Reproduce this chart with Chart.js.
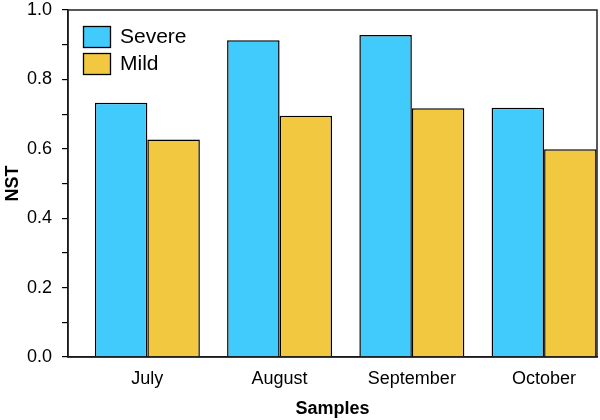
<!DOCTYPE html>
<html>
<head>
<meta charset="utf-8">
<script src="https://cdn.jsdelivr.net/npm/chart.js@4/dist/chart.umd.min.js"></script>
<style>
  html, body { margin: 0; padding: 0; background: #fff; }
  #wrap { width: 600px; height: 420px; }
</style>
</head>
<body>
<div id="wrap"><canvas id="nstChart" width="600" height="420"></canvas></div>
<script>
// Data
const months = ["July", "August", "September", "October"];
const monthPos = [1, 2, 3, 4];
const severe = [0.733, 0.913, 0.928, 0.718];
const mild = [0.627, 0.695, 0.717, 0.599];
const seriesNames = ["Severe", "Mild"];
const seriesColors = ["#41CBFC", "#F2C841"];

const FONT = "'Liberation Sans', Arial, sans-serif";

// frame around plot + legend inside plot
const framePlugin = {
    id: "frame",
    afterDraw(chart) {
        const { ctx, chartArea } = chart;
        ctx.save();
        ctx.strokeStyle = "#222";
        ctx.lineWidth = 1.5;
        ctx.strokeRect(chartArea.left, chartArea.top, chartArea.right - chartArea.left, chartArea.bottom - chartArea.top);

        // legend
        const x0 = chartArea.left + 15;
        let y0 = chartArea.top + 16;
        ctx.font = "21px " + FONT;
        ctx.textBaseline = "middle";
        chart.data.datasets.forEach((ds) => {
            ctx.fillStyle = ds.backgroundColor;
            ctx.fillRect(x0, y0, 27, 21);
            ctx.strokeStyle = "#000";
            ctx.lineWidth = 1.3;
            ctx.strokeRect(x0 + 0.5, y0 + 0.5, 27, 21);
            ctx.fillStyle = "#000";
            ctx.fillText(ds.label, x0 + 37, y0 + 11);
            y0 += 27;
        });
        ctx.restore();
    }
};

const ctx = document.getElementById("nstChart").getContext("2d");
new Chart(ctx, {
    type: "bar",
    data: {
        datasets: [
            {
                label: seriesNames[0],
                data: monthPos.map((p, i) => ({ x: p, y: severe[i] })),
                backgroundColor: seriesColors[0],
                borderColor: "#000",
                borderWidth: 1.5
            },
            {
                label: seriesNames[1],
                data: monthPos.map((p, i) => ({ x: p, y: mild[i] })),
                backgroundColor: seriesColors[1],
                borderColor: "#000",
                borderWidth: 1.5
            }
        ]
    },
    options: {
        responsive: false,
        animation: false,
        categoryPercentage: 0.794,
        barPercentage: 1.0,
        layout: { padding: { top: 10, right: 3, left: 0, bottom: 0 } },
        plugins: {
            legend: { display: false },
            tooltip: { enabled: false }
        },
        scales: {
            x: {
                type: "linear",
                offset: false,
                min: 0.4,
                max: 4.4,
                afterBuildTicks(scale) {
                    scale.ticks = monthPos.map(v => ({ value: v }));
                },
                afterFit(scale) {
                    scale.height = 63;
                    scale.paddingLeft = 0;
                    scale.paddingRight = 0;
                },
                grid: { display: false, drawTicks: false, offset: false },
                border: { display: true, color: "#000", width: 1.5 },
                ticks: {
                    color: "#000",
                    font: { family: FONT, size: 18 },
                    padding: 11,
                    callback: (v) => months[monthPos.indexOf(v)] || ""
                },
                title: {
                    display: true,
                    text: "Samples",
                    color: "#000",
                    font: { family: FONT, size: 18, weight: "bold" },
                    padding: { bottom: 0, top: 0 }
                }
            },
            y: {
                min: 0,
                max: 1,
                afterFit(scale) {
                    scale.width = 68;
                    scale.paddingTop = 0;
                    scale.paddingBottom = 0;
                },
                grid: { drawOnChartArea: false, drawTicks: true, tickLength: 6, color: "#000", lineWidth: 1.2 },
                border: { display: true, color: "#000", width: 1.5 },
                ticks: {
                    stepSize: 0.1,
                    color: "#000",
                    padding: 10,
                    font: { family: FONT, size: 18 },
                    callback: (v) => (Math.round(v * 10) % 2 === 0 ? v.toFixed(1) : "")
                },
                title: {
                    display: true,
                    text: "NST",
                    color: "#000",
                    font: { family: FONT, size: 18, weight: "bold" },
                    padding: { top: 2, bottom: 0 }
                }
            }
        }
    },
    plugins: [framePlugin]
});
</script>
</body>
</html>
